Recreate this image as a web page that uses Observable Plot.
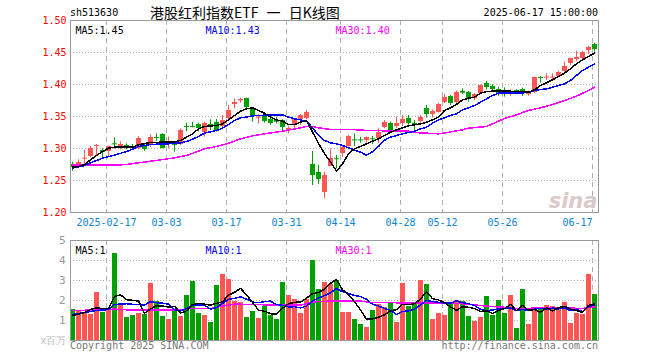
<!DOCTYPE html>
<html><head><meta charset="utf-8">
<script src="https://cdn.jsdelivr.net/npm/d3@7"></script>
<script src="https://cdn.jsdelivr.net/npm/@observablehq/plot@0.6"></script>
<style>
body{margin:0;background:#fff;}
#wrap{position:relative;width:660px;height:360px;overflow:hidden;background:#fff;font-family:"DejaVu Sans Mono",monospace;}
.t{position:absolute;white-space:nowrap;font-size:10px;line-height:12px;}
#wrap svg{position:absolute;left:0;}
</style></head><body><div id="wrap">
<div class="t" id="code" style="left:70px;top:7px;color:#000;"></div>
<div class="t" id="title" style="left:150px;top:2px;font-family:'Noto Sans CJK SC',sans-serif;font-size:14px;line-height:20px;word-spacing:5px;color:#000;"></div>
<div class="t" id="stamp" style="right:62px;top:7px;color:#000;"></div>
<div class="t" id="copy" style="left:70px;top:340px;color:#777;"></div>
<div class="t" id="url" style="right:62px;top:340px;color:#777;"></div>
</div>
<script>
// ---- header / footer texts ----
const codeText = "sh513630";
const titleText = "港股红利指数ETF 一 日K线图";
const stampText = "2025-06-17 15:00:00";
const copyText = "Copyright 2025 SINA.COM";
const urlText = "http://finance.sina.com.cn";

// ---- x ticks (trading-day index) ----
const tickIdx = [6, 16, 26, 36, 45, 55, 62, 72, 87];
const tickLabels = ["2025-02-17", "03-03", "03-17", "03-31", "04-14", "04-28", "05-12", "05-26", "06-17"];

// ---- axes / legends ----
const priceTicks = [1.50, 1.45, 1.40, 1.35, 1.30, 1.25, 1.20];
const volTicks = [1, 2, 3, 4, 5];
const volUnit = "x百万";
const priceLegend = ["MA5:1.45", "MA10:1.43", "MA30:1.40"];
const volLegend = ["MA5:1", "MA10:1", "MA30:1"];

// ---- daily OHLC (2025-02-07 .. 2025-06-17) ----
const open = [1.275,1.2703,1.2839,1.288,1.3026,1.2969,1.2958,1.3083,1.3031,1.3047,1.3026,1.2995,1.3036,1.3042,1.3177,1.3219,1.3063,1.3073,1.3063,1.3349,1.335,1.3375,1.3255,1.338,1.34,1.3344,1.3464,1.3682,1.3755,1.3786,1.363,1.3484,1.35,1.3448,1.3432,1.3438,1.3302,1.3359,1.3448,1.3474,1.275,1.263,1.2318,1.2724,1.2845,1.2917,1.3031,1.3138,1.3138,1.3125,1.3153,1.3151,1.3333,1.3385,1.3344,1.3396,1.3464,1.3385,1.3427,1.362,1.3531,1.3568,1.3724,1.3813,1.3724,1.3885,1.388,1.3776,1.3865,1.401,1.3974,1.3917,1.3885,1.3844,1.3908,1.3922,1.3844,1.388,1.4115,1.4113,1.411,1.4125,1.4208,1.4333,1.4385,1.4401,1.4531,1.4625];
const high = [1.2786,1.2823,1.2969,1.303,1.3063,1.2995,1.3037,1.3167,1.3104,1.3073,1.3063,1.3188,1.3063,1.3214,1.3229,1.3229,1.3177,1.3083,1.3307,1.3396,1.341,1.3396,1.3411,1.3448,1.3453,1.3516,1.3672,1.3776,1.3786,1.3786,1.3635,1.3531,1.3526,1.349,1.349,1.3448,1.3344,1.3458,1.3531,1.3594,1.2953,1.2734,1.263,1.2995,1.289,1.3047,1.3203,1.3229,1.3177,1.3177,1.3188,1.3307,1.3438,1.3411,1.349,1.3516,1.3516,1.3438,1.3516,1.3672,1.3604,1.3708,1.3844,1.3828,1.3896,1.3932,1.3891,1.3854,1.3995,1.4047,1.3995,1.3958,1.3948,1.3917,1.3917,1.3943,1.3896,1.4115,1.4125,1.4167,1.4167,1.4208,1.4349,1.4411,1.4521,1.4516,1.4594,1.4646];
const low = [1.2646,1.269,1.275,1.2854,1.2875,1.2854,1.2865,1.299,1.298,1.298,1.298,1.298,1.2958,1.3016,1.3115,1.2995,1.2995,1.2943,1.3047,1.326,1.332,1.326,1.3177,1.328,1.3255,1.3307,1.3438,1.362,1.3708,1.362,1.3411,1.3385,1.3396,1.336,1.3385,1.3255,1.3229,1.3307,1.3359,1.3448,1.2422,1.2438,1.2214,1.2724,1.268,1.2865,1.3021,1.3031,1.3083,1.3083,1.3063,1.3073,1.3307,1.3266,1.3307,1.3344,1.336,1.3281,1.3396,1.3479,1.3479,1.3552,1.3698,1.3672,1.3698,1.3844,1.3724,1.375,1.3854,1.3917,1.3896,1.3813,1.3802,1.3813,1.388,1.3813,1.3813,1.3865,1.4021,1.4063,1.4063,1.4104,1.4193,1.4297,1.4365,1.4375,1.4469,1.4505];
const close = [1.2708,1.2776,1.2849,1.3005,1.3047,1.2943,1.3026,1.3073,1.3063,1.301,1.3021,1.3151,1.299,1.3177,1.3172,1.30,1.3099,1.3063,1.3281,1.3344,1.3345,1.3307,1.3385,1.3375,1.328,1.3438,1.3594,1.3724,1.376,1.3635,1.35,1.349,1.3427,1.3396,1.3427,1.3323,1.3307,1.3448,1.351,1.3568,1.2578,1.2521,1.2573,1.2849,1.284,1.3021,1.3188,1.3135,1.3135,1.3167,1.3151,1.3255,1.3411,1.3281,1.3385,1.3448,1.3396,1.3359,1.3479,1.3531,1.3583,1.3688,1.3792,1.3698,1.388,1.388,1.3776,1.3844,1.3984,1.3958,1.3922,1.3865,1.388,1.388,1.3906,1.388,1.388,1.4104,1.411,1.4115,1.4115,1.4193,1.4281,1.4401,1.4417,1.4505,1.4583,1.4542];
// volume, millions
const volume = [1.55,1.52,1.4,1.3,2.4,1.4,1.57,4.35,1.75,1.15,1.23,1.35,1.3,2.85,1.95,1.22,1.05,1.47,1.22,2.27,2.97,1.35,1.27,0.92,2.77,3.32,3.07,1.97,1.9,1.15,1.47,1.1,1.7,1.27,1.07,2.9,2.25,2.05,1.35,2.05,4.0,2.55,2.92,2.8,2.98,1.41,1.41,1.05,0.8,0.65,1.5,1.8,1.64,1.86,0.9,2.86,1.7,1.9,3.0,2.81,1.06,1.36,1.25,1.9,1.98,1.96,1.2,0.95,1.15,2.2,1.25,2.0,1.36,2.25,0.6,2.55,0.8,1.56,1.56,1.75,1.72,1.6,1.91,0.86,1.36,1.31,3.31,2.3];

// ---- moving-average lines: [index, value] ----
const ma5 = [[0,1.2708],[1,1.272],[2,1.275],[3,1.2823],[4,1.289],[5,1.2953],[6,1.3005],[7,1.302],[10,1.302],[11,1.3057],[13,1.3094],[17,1.3104],[18,1.3125],[19,1.3177],[20,1.3229],[21,1.3307],[22,1.3344],[24,1.336],[25,1.3385],[26,1.3448],[27,1.3516],[28,1.3583],[29,1.362],[30,1.3635],[31,1.3594],[32,1.3552],[33,1.349],[34,1.3448],[35,1.3427],[36,1.3375],[37,1.3375],[38,1.3411],[39,1.3438],[40,1.326],[41,1.308],[42,1.292],[43,1.279],[44,1.2646],[45,1.276],[46,1.2917],[47,1.2995],[48,1.3031],[49,1.3073],[50,1.3115],[51,1.3151],[52,1.3203],[53,1.3255],[54,1.3292],[55,1.3323],[56,1.3354],[57,1.337],[58,1.3385],[59,1.3411],[60,1.3448],[61,1.349],[62,1.3594],[63,1.3635],[64,1.3688],[65,1.376],[66,1.3786],[67,1.3802],[68,1.3865],[69,1.3891],[70,1.3896],[72,1.3896],[75,1.3891],[76,1.388],[77,1.3917],[78,1.3984],[79,1.4026],[80,1.4073],[81,1.4125],[82,1.4177],[83,1.4245],[84,1.4323],[85,1.4385],[86,1.4438],[87,1.449]];
const ma10 = [[0,1.2693],[2,1.2734],[3,1.2776],[5,1.2849],[7,1.2896],[9,1.2953],[10,1.299],[11,1.3031],[13,1.3063],[16,1.3073],[18,1.3089],[19,1.3109],[20,1.3146],[21,1.3188],[22,1.324],[24,1.3281],[25,1.3318],[26,1.3375],[27,1.3438],[28,1.3479],[29,1.349],[30,1.351],[33,1.3526],[35,1.3526],[36,1.349],[37,1.3464],[38,1.3448],[39,1.3427],[40,1.3323],[41,1.3203],[42,1.3125],[43,1.3089],[44,1.3073],[45,1.3047],[46,1.301],[48,1.2943],[49,1.2895],[50,1.2950],[51,1.3031],[52,1.313],[53,1.3177],[55,1.3229],[57,1.3271],[58,1.3307],[59,1.3333],[60,1.3396],[61,1.3448],[62,1.3479],[63,1.3516],[64,1.3542],[65,1.3604],[66,1.3635],[67,1.3672],[68,1.3724],[69,1.3776],[70,1.3828],[71,1.3865],[72,1.387],[75,1.387],[76,1.3875],[77,1.3906],[78,1.3922],[79,1.3932],[80,1.3958],[81,1.3984],[82,1.401],[83,1.4063],[84,1.4141],[85,1.4219],[86,1.4271],[87,1.4323]];
const ma30 = [[0,1.2745],[8,1.2745],[9,1.275],[11,1.2776],[14,1.2813],[17,1.2854],[19,1.2891],[21,1.2958],[22,1.2995],[24,1.3031],[26,1.3083],[28,1.3151],[30,1.3198],[32,1.3229],[35,1.3271],[38,1.3323],[39,1.3344],[40,1.3344],[41,1.3323],[43,1.3297],[48,1.3292],[49,1.3281],[56,1.3271],[57,1.325],[61,1.3229],[62,1.324],[63,1.326],[65,1.3292],[66,1.3318],[69,1.3344],[70,1.3385],[72,1.3469],[74,1.3526],[76,1.3594],[78,1.3635],[80,1.3688],[82,1.375],[84,1.3818],[86,1.3906],[87,1.3958]];
const volMa5 = [1.25,1.32,1.4,1.55,1.63,1.6,1.61,2.2,2.29,2.04,2.01,1.97,1.36,1.58,1.74,1.73,1.67,1.71,1.38,1.45,1.8,1.86,1.82,1.76,1.86,1.93,2.27,2.41,2.61,2.28,1.91,1.52,1.46,1.34,1.32,1.61,1.84,1.91,1.92,2.12,2.34,2.4,2.57,2.86,3.05,2.53,2.3,1.93,1.53,1.06,1.08,1.16,1.28,1.49,1.54,1.81,1.79,1.84,2.07,2.45,2.09,2.03,1.9,1.68,1.51,1.69,1.66,1.6,1.45,1.49,1.35,1.51,1.59,1.81,1.49,1.75,1.51,1.55,1.41,1.64,1.48,1.64,1.71,1.57,1.49,1.41,1.75,1.83];
const volMa10 = [1.3,1.35,1.4,1.45,1.5,1.52,1.55,1.8,1.82,1.84,1.81,1.79,1.78,1.94,1.89,1.87,1.82,1.53,1.48,1.59,1.77,1.77,1.76,1.57,1.65,1.86,2.06,2.11,2.18,2.07,1.92,1.89,1.94,1.97,1.8,1.76,1.68,1.69,1.63,1.72,1.97,2.12,2.24,2.39,2.59,2.44,2.35,2.25,2.2,2.06,1.81,1.73,1.6,1.51,1.3,1.45,1.48,1.56,1.78,2.0,1.95,1.91,1.87,1.87,1.98,1.89,1.84,1.75,1.56,1.5,1.52,1.58,1.6,1.63,1.49,1.55,1.51,1.57,1.61,1.57,1.62,1.58,1.63,1.49,1.57,1.44,1.69,1.77];
const volMa30 = [[0,1.5],[5,1.53],[7,1.57],[10,1.52],[18,1.52],[19,1.6],[23,1.6],[25,1.72],[27,1.82],[30,1.8],[34,1.77],[38,1.77],[40,1.93],[43,1.97],[48,1.97],[50,1.9],[56,1.88],[64,1.86],[67,1.78],[69,1.72],[72,1.66],[74,1.6],[78,1.62],[82,1.63],[85,1.6],[87,1.68]];

// ---- styling ----
const RED = "#ff5555", GREEN = "#00a000";
const GRID = "#b0b0b0", FRAME = "#999999";
const AXISBLUE = "#0a84d2";
const xDomain = [-1/3, 87 + 2/3];

const candles = close.map((c, i) => ({i, o: open[i], h: high[i], l: low[i], c, v: volume[i], col: c > open[i] ? RED : GREEN}));
const doji = candles.filter(d => Math.abs(d.c - d.o) < 0.0016);
const ticks = tickIdx.map((i, k) => ({i, label: tickLabels[k]}));
const pairs = a => a.map(([i, v]) => ({i, v}));
const seq = a => a.map((v, i) => ({i, v}));
const crisp = {shapeRendering: "crispEdges"};

const font = {fontFamily: "'DejaVu Sans Mono', monospace", fontSize: "10px", background: "transparent", overflow: "visible"};

const main = Plot.plot({
  width: 660, height: 232,
  marginTop: 20, marginBottom: 20, marginLeft: 70, marginRight: 62,
  x: {domain: xDomain, axis: null},
  y: {domain: [1.2, 1.5], axis: null},
  color: {type: "identity"},
  style: font,
  marks: [
    Plot.ruleY(priceTicks.filter(t => t > 1.2 && t < 1.5), {stroke: GRID, strokeDasharray: "1,2"}),
    Plot.ruleX(ticks, {x: d => d.i - 1/3, stroke: GRID, strokeDasharray: "5,4"}),
    Plot.text(["sina"], {frameAnchor: "bottom-right", dx: -1, dy: -5, fill: "#dccaca", fontSize: 21, fontWeight: "bold", fontStyle: "italic", fontFamily: "Verdana, 'DejaVu Sans', sans-serif", textAnchor: "end", lineAnchor: "bottom"}),
    Plot.ruleX(candles, {x: "i", y1: "l", y2: "h", stroke: "col"}),
    Plot.rect(candles, {x1: d => d.i - 1/3, x2: d => d.i + 0.5, y1: "o", y2: "c", fill: "col", ...crisp}),
    Plot.ruleY(doji, {x1: d => d.i - 1/3, x2: d => d.i + 0.5, y: "c", stroke: "col"}),
    Plot.line(pairs(ma30), {x: "i", y: "v", stroke: "#ff00ff", ...crisp}),
    Plot.line(pairs(ma10), {x: "i", y: "v", stroke: "#0000ff", ...crisp}),
    Plot.line(pairs(ma5), {x: "i", y: "v", stroke: "#000000", ...crisp}),
    Plot.frame({stroke: FRAME}),
    Plot.text(priceTicks, {x: xDomain[0], y: d => d, text: d => d.toFixed(2), textAnchor: "end", dx: -4, fill: "#ff0000"}),
    Plot.text(ticks.slice(0, -1), {x: d => d.i - 1/3, y: 1.2, text: "label", dy: 10, fill: AXISBLUE}),
    Plot.text(ticks.slice(-1), {x: d => d.i - 1/3, y: 1.2, text: "label", dy: 10, textAnchor: "end", fill: AXISBLUE}),
    Plot.text(priceLegend.slice(0, 1), {frameAnchor: "top-left", dx: 5, dy: 6, fill: "#000"}),
    Plot.text(priceLegend.slice(1, 2), {frameAnchor: "top-left", dx: 135, dy: 6, fill: "#0000ff"}),
    Plot.text(priceLegend.slice(2, 3), {frameAnchor: "top-left", dx: 265, dy: 6, fill: "#ff00ff"})
  ]
});
main.style.top = "0px";

const vol = Plot.plot({
  width: 660, height: 128,
  marginTop: 8, marginBottom: 20, marginLeft: 70, marginRight: 62,
  x: {domain: xDomain, axis: null},
  y: {domain: [0, 5], axis: null},
  color: {type: "identity"},
  style: font,
  marks: [
    Plot.ruleY(volTicks.filter(t => t < 5), {stroke: GRID, strokeDasharray: "1,2"}),
    Plot.ruleX(ticks, {x: d => d.i - 1/3, stroke: GRID, strokeDasharray: "5,4"}),
    Plot.rect(candles, {x1: d => d.i - 1/3, x2: d => d.i + 0.5, y1: 0, y2: "v", fill: "col", ...crisp}),
    Plot.line(pairs(volMa30), {x: "i", y: "v", stroke: "#ff00ff", ...crisp}),
    Plot.line(seq(volMa10), {x: "i", y: "v", stroke: "#0000ff", ...crisp}),
    Plot.line(seq(volMa5), {x: "i", y: "v", stroke: "#000000", ...crisp}),
    Plot.frame({stroke: FRAME}),
    Plot.text(volTicks, {x: xDomain[0], y: d => d, text: d => String(d), textAnchor: "end", dx: -5, fill: "#999", fontSize: 11}),
    Plot.text([volUnit], {x: xDomain[0], y: 0, textAnchor: "end", dx: -4, fill: "#bbb"}),
    Plot.text(volLegend.slice(0, 1), {frameAnchor: "top-left", dx: 5, dy: 6, fill: "#000"}),
    Plot.text(volLegend.slice(1, 2), {frameAnchor: "top-left", dx: 135, dy: 6, fill: "#0000ff"}),
    Plot.text(volLegend.slice(2, 3), {frameAnchor: "top-left", dx: 265, dy: 6, fill: "#ff00ff"})
  ]
});
vol.style.top = "232px";

const wrap = document.getElementById("wrap");
wrap.appendChild(main);
wrap.appendChild(vol);
document.getElementById("code").textContent = codeText;
document.getElementById("title").textContent = titleText;
document.getElementById("stamp").textContent = stampText;
document.getElementById("copy").textContent = copyText;
document.getElementById("url").textContent = urlText;
</script></body></html>
